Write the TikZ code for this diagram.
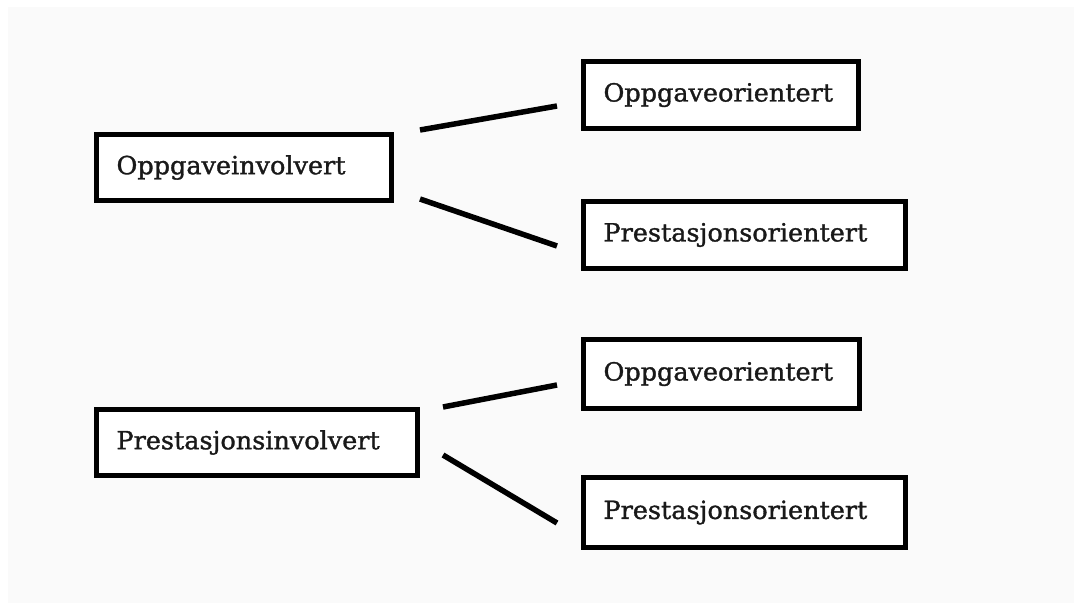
\documentclass[tikz,border=0pt]{standalone}
\usepackage{fontspec}
\setmainfont{DejaVu Serif}[FakeStretch=1.02,FakeBold=1.3]
\begin{document}
\begin{tikzpicture}[x=1pt,y=-1pt,
  box/.style={draw=black, line width=5pt, fill=white, inner xsep=20pt, inner ysep=0pt,
    align=left, font=\fontsize{25}{30}\selectfont, text=black!90},
  link/.style={line width=5.5pt, draw=black}]
  \useasboundingbox (0,0) rectangle (1074,607);
  \fill[white] (0,0) rectangle (1074,607);
  \fill[black!2] (8,7) rectangle (1074,603);
  % boxes
  \node[box, text width=255pt, minimum height=66pt] (A) at (244,167.5) {\mbox{Oppgaveinvolvert}};
  \node[box, text width=281pt, minimum height=66pt] (B) at (257,442.5) {\mbox{Prestasjonsinvolvert}};
  \node[box, text width=235pt, minimum height=67pt] (C) at (721,95) {\mbox{Oppgaveorientert}};
  \node[box, text width=282pt, minimum height=67pt] (D) at (744.5,235) {\mbox{Prestasjonsorientert}};
  \node[box, text width=236pt, minimum height=69pt] (E) at (721.5,374) {\mbox{Oppgaveorientert}};
  \node[box, text width=282pt, minimum height=70pt] (F) at (744.5,512.5) {\mbox{Prestasjonsorientert}};
  % free-standing connector ends
  \coordinate (a1) at (420,130); \coordinate (c1) at (557,106);
  \coordinate (a2) at (420,199); \coordinate (d1) at (557,246);
  \coordinate (b1) at (443,407); \coordinate (e1) at (557,385);
  \coordinate (b2) at (443,455); \coordinate (f1) at (557,523);
  \draw[link] (a1) -- (c1);
  \draw[link] (a2) -- (d1);
  \draw[link] (b1) -- (e1);
  \draw[link] (b2) -- (f1);
\end{tikzpicture}
\end{document}
